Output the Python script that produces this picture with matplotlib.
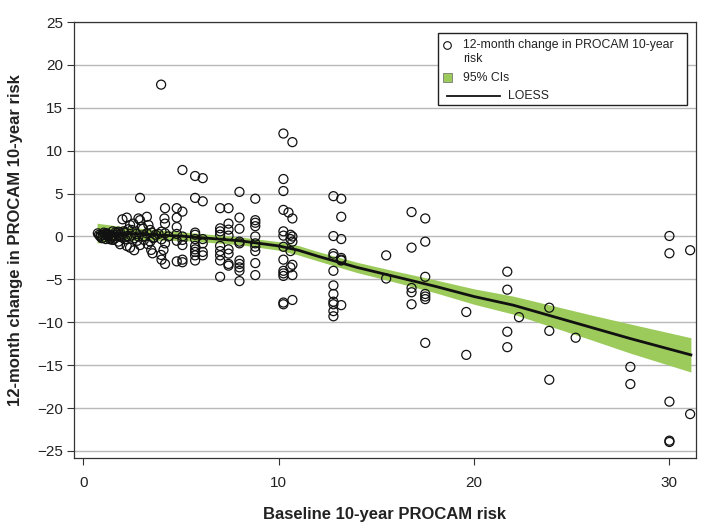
import matplotlib
matplotlib.use("Agg")
import matplotlib.pyplot as plt
from matplotlib.lines import Line2D
from matplotlib.patches import Rectangle

plt.rcParams['font.family'] = ['Liberation Sans', 'DejaVu Sans']

# ---- data: baseline risk (x) and 12-month change (y) ----
base_risk = [
    # dense cluster low risk
    0.74, 0.86, 1.02, 1.20, 1.28, 1.37, 1.59, 1.71, 1.79, 1.96, 2.13, 1.79, 1.88, 2.22, 2.39,
    2.30, 2.48, 2.56, 2.82, 2.90, 2.99, 3.25, 3.33, 3.42, 3.25, 3.50, 3.58, 3.42, 3.30, 3.47,
    3.54, 2.82, 2.90, 3.16, 2.22, 2.39, 4.18, 4.15, 4.18, 4.00, 4.18, 4.00, 4.18, 4.10, 3.98,
    4.00, 4.18, 4.35, 0.80, 0.95, 1.10, 1.15, 1.45, 1.50, 1.65, 0.90, 1.05, 1.30, 2.05, 2.60,
    2.70, 3.05, 3.70, 1.90, 2.90, 3.98, 1.50, 2.00, 2.60, 1.25, 1.40, 1.60, 1.85, 2.10, 2.45,
    2.75, 3.10, 3.60, 3.85, 0.98, 1.55, 2.25,
    # x ~ 4.8 - 5.1
    4.78, 4.78, 4.78, 4.78, 4.78, 4.78, 5.07, 5.07, 5.07, 5.07, 5.07, 5.07, 5.07,
    # x ~ 5.7
    5.72, 5.72, 5.72, 5.72, 5.72, 5.72, 5.72, 5.72, 5.72, 5.72,
    # x ~ 6.1
    6.11, 6.11, 6.11, 6.11, 6.11, 6.11,
    # x ~ 7.0
    7.00, 7.00, 7.00, 7.00, 7.00, 7.00, 7.00, 7.00, 7.00,
    # x ~ 7.4
    7.43, 7.43, 7.43, 7.43, 7.43, 7.43, 7.43, 7.43,
    # x ~ 8.0
    7.99, 7.99, 7.99, 7.99, 7.99, 7.99, 7.99, 7.99, 7.99, 7.99,
    # x ~ 8.8
    8.80, 8.80, 8.80, 8.80, 8.80, 8.80, 8.80, 8.80, 8.80, 8.80,
    # x ~ 10.2
    10.24, 10.24, 10.24, 10.24, 10.24, 10.24, 10.24, 10.24, 10.24, 10.24, 10.24, 10.24, 10.24,
    # x ~ 10.5-10.7
    10.70, 10.50, 10.70, 10.60, 10.70, 10.60, 10.70, 10.60, 10.70, 10.60, 10.70, 10.70,
    # x ~ 12.8
    12.80, 12.80, 12.80, 12.80, 12.80, 12.80, 12.80, 12.80, 12.80, 12.80, 12.80,
    # x ~ 13.2
    13.20, 13.20, 13.20, 13.20, 13.20, 13.20, 13.20,
    # x ~ 15.5
    15.50, 15.50,
    # x ~ 16.8
    16.80, 16.80, 16.80, 16.80, 16.80,
    # x ~ 17.5
    17.50, 17.50, 17.50, 17.50, 17.50, 17.50, 17.50,
    # far right
    19.60, 19.60, 21.70, 21.70, 21.70, 21.70, 22.30, 23.85, 23.85, 23.85, 25.20,
    28.00, 28.00, 30.00, 30.00, 30.00, 30.00, 30.00, 31.06, 31.06,
]
change_12m = [
    0.37, 0.00, 0.17, 0.37, 0.00, -0.33, 0.17, 0.37, 0.56, -0.10, -0.33, -0.60, -0.90, -1.10, -1.30,
    0.84, 0.76, 1.50, 2.10, 1.90, 1.15, 2.30, 1.34, 0.76, 0.37, 0.45, -0.20, -0.60, -0.90, -1.57,
    -1.96, 0.00, -1.00, 0.00, 2.20, 1.34, 3.30, 2.10, 1.50, 0.56, 0.37, -0.33, -0.80, -1.57, -2.15,
    -2.70, -3.20, 0.00, 0.20, -0.20, 0.30, -0.30, 0.10, -0.40, 0.50, 0.10, 0.45, 0.20, 0.60, -0.20,
    0.30, 0.90, 0.20, 0.00, 4.50, 17.70, 0.60, 2.00, -1.60, 0.25, -0.15, -0.25, 0.20, 0.45, 0.10,
    -0.50, -0.40, -0.10, 0.30, -0.15, 0.00, 0.05,
    3.30, 2.20, 1.10, 0.30, -0.50, -2.90, 7.75, 2.90, 0.00, -0.40, -1.00, -2.70, -3.00,
    7.05, 4.50, 0.45, 0.20, -0.30, -1.10, -1.50, -1.80, -2.20, -2.80,
    6.80, 4.10, -0.30, -0.80, -1.80, -2.20,
    3.30, 0.95, 0.60, 0.20, -1.10, -1.70, -2.20, -2.80, -4.70,
    3.30, 1.50, 0.80, 0.10, -1.50, -2.00, -3.20, -3.40,
    5.20, 2.20, 0.90, -0.60, -0.80, -2.80, -3.20, -3.60, -4.00, -5.20,
    4.40, 1.90, 1.60, 1.20, 0.00, -0.80, -1.20, -1.70, -3.10, -4.50,
    12.00, 6.70, 5.30, 3.10, 0.60, 0.10, -1.20, -2.70, -4.00, -4.30, -4.60, -7.70, -7.90,
    11.00, 2.80, 2.10, 0.20, 0.00, -0.30, -0.60, -1.70, -3.30, -3.60, -4.50, -7.40,
    4.70, 0.05, -2.00, -2.30, -4.00, -5.70, -6.70, -7.60, -7.90, -8.70, -9.30,
    4.40, 2.30, -0.30, -2.50, -2.70, -8.00, -2.80,
    -2.20, -4.90,
    2.85, -1.30, -6.00, -6.50, -7.90,
    2.10, -0.60, -4.70, -6.70, -7.00, -7.30, -12.40,
    -8.80, -13.80, -4.10, -6.20, -11.10, -12.90, -9.40, -8.30, -11.00, -16.70, -11.80,
    -15.20, -17.20, 0.06, -1.96, -19.25, -23.80, -23.95, -1.60, -20.70,
]

# ---- LOESS fit and 95% CI ----
loess_x = [0.7, 2.0, 5.0, 8.0, 10.0, 11.0, 12.0, 14.0, 16.0, 18.0, 20.0, 22.0, 24.0, 26.0, 28.0, 31.1]
loess_y = [0.4, 0.35, 0.05, -0.5, -1.1, -1.6, -2.3, -3.6, -4.7, -5.8, -7.0, -8.0, -9.3, -10.6, -11.9, -13.8]
ci_half = [1.15, 0.8, 0.5, 0.45, 0.5, 0.55, 0.55, 0.6, 0.65, 0.75, 0.9, 1.05, 1.25, 1.45, 1.7, 2.0]
ci_lo = [m - h for m, h in zip(loess_y, ci_half)]
ci_hi = [m + h for m, h in zip(loess_y, ci_half)]

x_ticks = [0, 10, 20, 30]
y_ticks = [25, 20, 15, 10, 5, 0, -5, -10, -15, -20, -25]
legend_labels = ['12-month change in PROCAM 10-year\nrisk', '95% CIs', 'LOESS']

band_color = '#9ccb5c'
ink = '#111111'

fig = plt.figure(figsize=(7.17, 5.29), dpi=100)
ax = fig.add_axes([0.1032, 0.1342, 0.8675, 0.8242])

for yv in y_ticks:
    ax.axhline(yv, color='#b8b8b8', lw=1.0, zorder=0)

ax.fill_between(loess_x, ci_lo, ci_hi, color=band_color, lw=0, zorder=1)
ax.plot(loess_x, loess_y, color=ink, lw=2.0, zorder=2)
ax.scatter(base_risk, change_12m, s=42, facecolors='none', edgecolors=ink,
           linewidths=0.9, zorder=3)

ax.set_xlim(-0.48, 31.36)
ax.set_ylim(-25.82, 25)
ax.set_xticks(x_ticks)
ax.set_yticks(y_ticks)
ax.set_yticklabels([str(v).replace('-', '\u2212') for v in y_ticks])
ax.tick_params(axis='both', direction='out', length=5, width=0.8, color='#333333',
               labelsize=11, labelcolor='#222222')
ax.tick_params(axis='x', pad=8)
ax.tick_params(axis='y', pad=3)
for sp in ax.spines.values():
    sp.set_color('#333333')
    sp.set_linewidth(0.9)

ax.set_xlabel('Baseline 10-year PROCAM risk', fontsize=12, fontweight='bold',
              color='#222222', labelpad=12)
ax.set_ylabel('12-month change in PROCAM 10-year risk', fontsize=12, fontweight='bold',
              color='#222222', labelpad=10)

# ---- legend drawn by hand (axes-fraction layout) ----
T = ax.transAxes
ax.add_patch(Rectangle((0.5852, 0.8096), 0.4003, 0.1652, transform=T, facecolor='white',
                       edgecolor='#222222', lw=1.0, zorder=5, clip_on=False))
ax.add_line(Line2D([0.5997], [0.947], transform=T, marker='o', ls='none',
                   markerfacecolor='none', markeredgecolor=ink, markersize=5.5,
                   markeredgewidth=0.8, zorder=6))
ax.text(0.6254, 0.962, legend_labels[0], transform=T, fontsize=8.8, color='#222222',
        va='top', ha='left', linespacing=1.25, zorder=6)
ax.add_patch(Rectangle((0.5997 - 0.0072, 0.872 - 0.0103), 0.0145, 0.0206, transform=T,
                       facecolor=band_color, edgecolor='#666666', lw=0.5, zorder=6))
ax.text(0.6254, 0.872, legend_labels[1], transform=T, fontsize=8.8, color='#222222',
        va='center', ha='left', zorder=6)
ax.add_line(Line2D([0.5997, 0.6849], [0.831, 0.831], transform=T, color=ink, lw=1.3,
                   zorder=6))
ax.text(0.6977, 0.831, legend_labels[2], transform=T, fontsize=8.8, color='#222222',
        va='center', ha='left', zorder=6)

fig.savefig('out.png', dpi=100)
